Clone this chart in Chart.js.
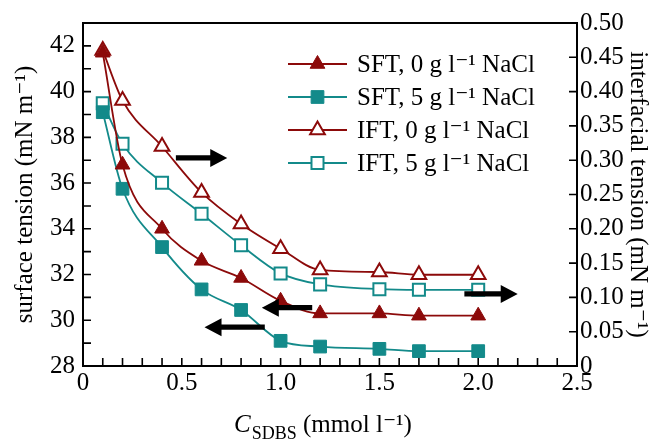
<!DOCTYPE html>
<html>
<head>
<meta charset="utf-8">
<script src="https://cdn.jsdelivr.net/npm/chart.js@4/dist/chart.umd.min.js"></script>
<style>
html, body { margin: 0; padding: 0; background: #ffffff; }
#wrap { width: 654px; height: 445px; position: relative; }
</style>
</head>
<body>
<div id="wrap"><canvas id="chart" width="654" height="445"></canvas></div>
<script>
// ---- data ----
const concentration = [0.1, 0.2, 0.4, 0.6, 0.8, 1.0, 1.2, 1.5, 1.7, 2.0];
const sft0 = [41.7, 36.8, 34.0, 32.6, 31.85, 30.85, 30.3, 30.3, 30.2, 30.2];
const sft5 = [39.1, 35.75, 33.2, 31.35, 30.45, 29.1, 28.85, 28.75, 28.65, 28.65];
const ift0 = [0.46, 0.387, 0.32, 0.253, 0.207, 0.171, 0.14, 0.137, 0.133, 0.133];
const ift5 = [0.383, 0.324, 0.267, 0.222, 0.176, 0.135, 0.119, 0.112, 0.111, 0.111];
const seriesLabels = ['SFT, 0 g l⁻¹ NaCl', 'SFT, 5 g l⁻¹ NaCl', 'IFT, 0 g l⁻¹ NaCl', 'IFT, 5 g l⁻¹ NaCl'];
const xTickLabels = ['0', '0.5', '1.0', '1.5', '2.0', '2.5'];
const leftTickLabels = ['28', '30', '32', '34', '36', '38', '40', '42'];
const rightTickLabels = ['0', '0.05', '0.10', '0.15', '0.20', '0.25', '0.30', '0.35', '0.40', '0.45', '0.50'];
const leftTitle = 'surface tension (mN m⁻¹)';
const rightTitle = 'interfacial tension (mN m⁻¹)';
const xTitleParts = ['C', 'SDBS', ' (mmol l⁻¹)'];
// arrows (in data units: x from -> to, at a left-axis value)
const arrowNotes = [
  { from: 0.47, to: 0.73, y: 37.1 },
  { from: 0.92, to: 0.615, y: 29.7 },
  { from: 1.16, to: 0.905, y: 30.55 },
  { from: 1.93, to: 2.2, y: 31.15 }
];

const RED = '#8c0a0a';
const TEAL = '#138a8a';
const FONT = "'Liberation Serif', 'DejaVu Serif', serif";
const FS = 25;

function pts(ys) { return concentration.map((x, i) => ({ x: x, y: ys[i] })); }

function ds(label, ys, axis, color, style, filled, radius) {
  return {
    label: label, data: pts(ys), yAxisID: axis,
    borderColor: color, backgroundColor: color,
    borderWidth: 1.8,
    pointStyle: style, pointRadius: radius, pointHoverRadius: radius,
    pointBackgroundColor: filled ? color : '#ffffff',
    pointBorderColor: color,
    pointBorderWidth: filled ? 1 : 2,
    cubicInterpolationMode: 'monotone',
    fill: false
  };
}

const frameTicks = {
  id: 'frameTicks',
  beforeDatasetsDraw(chart) {
    const { ctx, chartArea: a, scales } = chart;
    ctx.save();
    ctx.strokeStyle = '#000';
    ctx.lineWidth = 1.6;
    const L = 8;
    ctx.beginPath();
    scales.x.ticks.forEach(t => {
      const px = scales.x.getPixelForValue(t.value);
      ctx.moveTo(px, a.bottom); ctx.lineTo(px, a.bottom - L);
    });
    scales.y.ticks.forEach(t => {
      const py = scales.y.getPixelForValue(t.value);
      ctx.moveTo(a.left, py); ctx.lineTo(a.left + L, py);
    });
    scales.y2.ticks.forEach(t => {
      const py = scales.y2.getPixelForValue(t.value);
      ctx.moveTo(a.right, py); ctx.lineTo(a.right - L, py);
    });
    ctx.stroke();
    ctx.lineWidth = 2;
    ctx.strokeRect(a.left, a.top, a.right - a.left, a.bottom - a.top);
    ctx.restore();
  },
  afterDatasetsDraw(chart) {
    const { ctx, scales } = chart;
    ctx.save();
    ctx.fillStyle = '#000';
    arrowNotes.forEach(n => {
      const x1 = scales.x.getPixelForValue(n.from);
      const x2 = scales.x.getPixelForValue(n.to);
      const py = scales.y.getPixelForValue(n.y);
      const dir = x2 > x1 ? 1 : -1;
      const headLen = 17, headHalf = 9, shaft = 2.6;
      const base = x2 - dir * headLen;
      ctx.beginPath();
      ctx.moveTo(x1, py - shaft);
      ctx.lineTo(base, py - shaft);
      ctx.lineTo(base, py - headHalf);
      ctx.lineTo(x2, py);
      ctx.lineTo(base, py + headHalf);
      ctx.lineTo(base, py + shaft);
      ctx.lineTo(x1, py + shaft);
      ctx.closePath();
      ctx.fill();
    });
    ctx.restore();
  },
  afterDraw(chart) {
    const { ctx, chartArea: a } = chart;
    ctx.save();
    // legend
    chart.data.datasets.forEach((d, i) => {
      const y = a.top + 41 + i * 33;
      const x0 = a.left + 205, x1 = a.left + 264;
      ctx.strokeStyle = d.borderColor;
      ctx.lineWidth = d.borderWidth;
      ctx.beginPath(); ctx.moveTo(x0, y); ctx.lineTo(x1, y); ctx.stroke();
      ctx.fillStyle = d.pointBackgroundColor;
      ctx.strokeStyle = d.pointBorderColor;
      ctx.lineWidth = d.pointBorderWidth;
      Chart.helpers.drawPoint(ctx, { pointStyle: d.pointStyle, radius: d.pointRadius, borderWidth: d.pointBorderWidth, rotation: 0 }, (x0 + x1) / 2, y);
      ctx.fillStyle = '#000';
      ctx.font = FS + 'px ' + FONT;
      ctx.textBaseline = 'middle';
      ctx.textAlign = 'left';
      ctx.fillText(d.label, a.left + 274, y + 1);
    });
    // x-axis title with italic C and subscript
    const big = FS + 'px ' + FONT, ital = 'italic ' + FS + 'px ' + FONT, small = '18px ' + FONT;
    ctx.textBaseline = 'alphabetic';
    ctx.font = ital; const w0 = ctx.measureText(xTitleParts[0]).width;
    ctx.font = small; const w1 = ctx.measureText(xTitleParts[1]).width;
    ctx.font = big; const w2 = ctx.measureText(xTitleParts[2]).width;
    const total = w0 + w1 + w2 + 1;
    let sx = (a.left + a.right) / 2 - 7 - total / 2;
    const by = 432;
    ctx.fillStyle = '#000';
    ctx.font = ital; ctx.fillText(xTitleParts[0], sx, by); sx += w0 + 1;
    ctx.font = small; ctx.fillText(xTitleParts[1], sx, by + 7); sx += w1;
    ctx.font = big; ctx.fillText(xTitleParts[2], sx, by);
    ctx.restore();
  }
};

new Chart(document.getElementById('chart'), {
  type: 'line',
  data: {
    datasets: [
      ds(seriesLabels[0], sft0, 'y', RED, 'triangle', true, 8.5),
      ds(seriesLabels[1], sft5, 'y', TEAL, 'rect', true, 9),
      ds(seriesLabels[2], ift0, 'y2', RED, 'triangle', false, 8.5),
      ds(seriesLabels[3], ift5, 'y2', TEAL, 'rect', false, 8.5)
    ]
  },
  options: {
    responsive: false,
    animation: false,
    layout: { padding: { top: 11, left: 0, right: 0, bottom: 0 } },
    plugins: { legend: { display: false }, tooltip: { enabled: false } },
    scales: {
      x: {
        type: 'linear', min: 0, max: 2.5,
        grid: { display: false, drawTicks: false },
        border: { display: false },
        ticks: {
          stepSize: 0.1, autoSkip: false, maxRotation: 0, padding: 2,
          color: '#000', font: { family: FONT, size: FS },
          callback: (v) => { const k = Math.round(v * 10); return k % 5 === 0 ? xTickLabels[k / 5] : ''; }
        },
        afterFit: (s) => { s.height = 79; }
      },
      y: {
        type: 'linear', position: 'left', min: 28, max: 43,
        grid: { display: false, drawTicks: false },
        border: { display: false },
        ticks: {
          stepSize: 1, autoSkip: false, padding: 8,
          color: '#000', font: { family: FONT, size: FS },
          callback: (v) => { const k = Math.round(v); return (k % 2 === 0) ? leftTickLabels[(k - 28) / 2] : ''; }
        },
        title: { display: true, text: leftTitle, color: '#000', font: { family: FONT, size: FS }, padding: { top: 10 } },
        afterFit: (s) => { s.width = 83; }
      },
      y2: {
        type: 'linear', position: 'right', min: 0, max: 0.5,
        grid: { display: false, drawTicks: false },
        border: { display: false },
        ticks: {
          stepSize: 0.05, autoSkip: false, padding: 3,
          color: '#000', font: { family: FONT, size: FS },
          callback: (v) => rightTickLabels[Math.round(v / 0.05)]
        },
        title: { display: true, text: rightTitle, color: '#000', font: { family: FONT, size: FS }, padding: { top: 1 } },
        afterFit: (s) => { s.width = 77; }
      }
    }
  },
  plugins: [frameTicks]
});
</script>
</body>
</html>
